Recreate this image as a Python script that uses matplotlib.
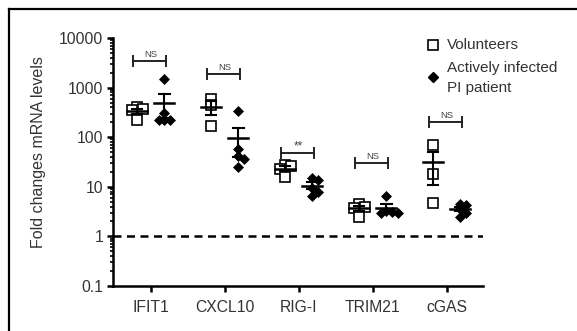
import numpy as np
import matplotlib
matplotlib.use("Agg")
import matplotlib.pyplot as plt
from matplotlib.lines import Line2D
from matplotlib.ticker import LogLocator, NullFormatter, FixedLocator, FixedFormatter

plt.rcParams['font.family'] = ['Liberation Sans', 'DejaVu Sans']

genes = ["IFIT1", "CXCL10", "RIG-I", "TRIM21", "cGAS"]
volunteers = [
    [410, 370, 350, 225],
    [590, 450, 170],
    [28, 26, 23, 16],
    [4.5, 4.0, 3.8, 2.5],
    [70, 18, 4.7],
]
patient = [
    [1500, 310, 225, 225, 225],
    [330, 57, 42, 36, 25],
    [15, 14, 9.5, 8, 6.4],
    [6.5, 3.3, 3.1, 3.0, 2.9],
    [4.6, 4.3, 3.5, 3.0, 2.5],
]
significance = ["NS", "NS", "**", "NS", "NS"]
bracket_levels = [3470, 1910, 49, 30.7, 200]
yticks = [0.1, 1, 10, 100, 1000, 10000]
ytick_labels = ["0.1", "1", "10", "100", "1000", "10000"]
legend_labels = ["Volunteers", "Actively infected\nPI patient"]

W, H = 577, 331
fig = plt.figure(figsize=(W / 100, H / 100), dpi=100)
ax = fig.add_axes([113 / W, 1 - 286 / H, 370 / W, 248 / H])

# outer frame (top and left edges visible)
fx, fy = 8.5 / W, 1 - 8.5 / H
fig.lines.append(Line2D([fx, 1.0], [fy, fy], transform=fig.transFigure,
                        color='black', lw=1.6))
fig.lines.append(Line2D([fx, fx], [0.0, fy], transform=fig.transFigure,
                        color='black', lw=1.6))

ax.set_yscale('log')
ax.set_ylim(0.1, 10000)
ax.set_xlim(-0.51, 4.49)

PX_X = 74.0   # pixels per category unit
PX_Y = 49.2   # pixels per decade


def swarm(values, size_px=5.5, step=0.075):
    """Spread overlapping points sideways, beeswarm style."""
    placed = []
    offs = []
    for v in values:
        ly = np.log10(v) * PX_Y
        cand = [0.0]
        for k in range(1, 4):
            cand += [k * step, -k * step]
        choice = cand[-1]
        for c in cand:
            if all(np.hypot((c - px) * PX_X, ly - py) >= size_px for px, py in placed):
                choice = c
                break
        placed.append((choice, ly))
        offs.append(choice)
    return np.array(offs)


group_off = 0.185
mean_hw = 0.135
cap_hw = 0.07

for i, (vol, pat) in enumerate(zip(volunteers, patient)):
    for vals, sign, kind in ((vol, -1, 'vol'), (pat, 1, 'pat')):
        vals = np.asarray(vals, float)
        xc = i + sign * group_off
        xs = xc + swarm(vals)
        if kind == 'vol':
            ax.plot(xs, vals, linestyle='none', marker='s', markersize=7.2,
                    markerfacecolor='white', markeredgecolor='black',
                    markeredgewidth=1.2, zorder=3)
        else:
            ax.plot(xs, vals, linestyle='none', marker='D', markersize=5.6,
                    markerfacecolor='black', markeredgecolor='black',
                    markeredgewidth=0.5, zorder=3)
        m = vals.mean()
        sem = vals.std(ddof=1) / np.sqrt(len(vals))
        lo, hi = max(m - sem, 0.11), m + sem
        ax.plot([xc - mean_hw, xc + mean_hw], [m, m], color='black', lw=1.8, zorder=4)
        ax.plot([xc, xc], [lo, hi], color='black', lw=1.5, zorder=4)
        ax.plot([xc - cap_hw, xc + cap_hw], [hi, hi], color='black', lw=1.5, zorder=4)
        ax.plot([xc - cap_hw, xc + cap_hw], [lo, lo], color='black', lw=1.5, zorder=4)

# significance brackets
for i, (lab, lev) in enumerate(zip(significance, bracket_levels)):
    x0, x1 = i - 0.24, i + 0.2
    ax.plot([x0, x1], [lev, lev], color='#222222', lw=1.4)
    f = 10 ** (5 / PX_Y)
    for xx in (x0, x1):
        ax.plot([xx, xx], [lev / f, lev * f], color='#222222', lw=1.4)
    fs = 8.5 if lab == "**" else 6.8
    dy = 0 if lab == "**" else 2
    ax.text((x0 + x1) / 2 + 0.02, lev * 10 ** (dy / PX_Y), lab, ha='center',
            va='bottom', fontsize=fs, color='#444444')

# reference line at 1
ax.axhline(1, color='black', lw=1.8, linestyle=(0, (3.2, 2.2)), zorder=1)

for s in ('top', 'right'):
    ax.spines[s].set_visible(False)
for s in ('left', 'bottom'):
    ax.spines[s].set_linewidth(1.8)

ax.yaxis.set_major_locator(FixedLocator(yticks))
ax.yaxis.set_major_formatter(FixedFormatter(ytick_labels))
ax.yaxis.set_minor_locator(LogLocator(base=10, subs=np.arange(2, 10)))
ax.yaxis.set_minor_formatter(NullFormatter())
ax.tick_params(axis='y', which='major', length=4, width=1.8, labelsize=11.3,
               labelcolor='#333333', pad=3)
ax.tick_params(axis='y', which='minor', length=2.5, width=1.2)
ax.set_xticks(range(len(genes)))
ax.set_xticklabels(genes)
ax.tick_params(axis='x', length=4, width=1.8, labelsize=11.3, labelcolor='#333333', pad=6)

ax.set_ylabel("Fold changes mRNA levels", fontsize=11.5, color='#333333')
ax.yaxis.set_label_coords(-0.181, 0.54)

# legend
lx_m, lx_t = 433 / W, 447 / W
fig.lines.append(Line2D([lx_m], [1 - 45 / H], transform=fig.transFigure,
                        marker='s', markersize=7.2, markerfacecolor='white',
                        markeredgecolor='black', markeredgewidth=1.2, linestyle='none'))
fig.lines.append(Line2D([lx_m], [1 - 77 / H], transform=fig.transFigure,
                        marker='D', markersize=5.6, markerfacecolor='black',
                        markeredgecolor='black', linestyle='none'))
fig.text(lx_t, 1 - 45 / H, legend_labels[0], fontsize=11, color='#333333',
         va='center', ha='left')
fig.text(lx_t, 1 - 78 / H, legend_labels[1], fontsize=11, color='#333333',
         va='center', ha='left', linespacing=1.5)

fig.savefig("out.png", dpi=100)
